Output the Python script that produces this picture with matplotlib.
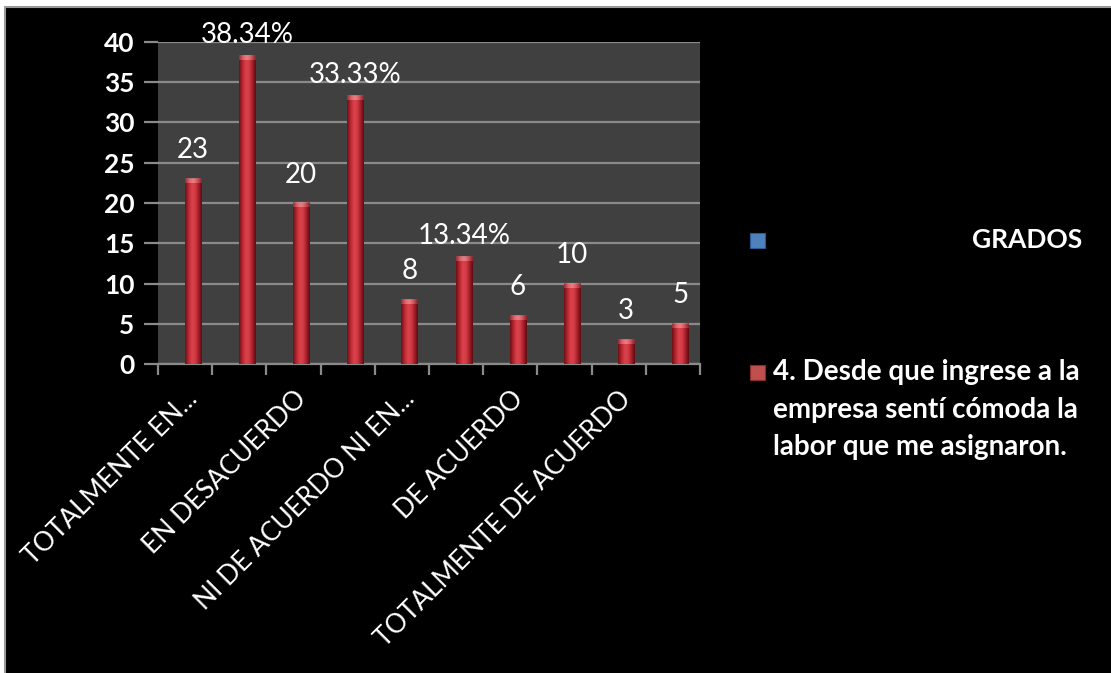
import numpy as np
import matplotlib
matplotlib.use("Agg")
import matplotlib.pyplot as plt
from matplotlib.colors import LinearSegmentedColormap
from matplotlib.patches import Rectangle
from matplotlib.lines import Line2D

# Survey answers: counts and percentage shares, alternating per answer
values = [23, 38.34, 20, 33.33, 8, 13.34, 6, 10, 3, 5]
value_labels = ["23", "38.34%", "20", "33.33%", "8", "13.34%", "6", "10", "3", "5"]
category_labels = ["TOTALMENTE EN...", "EN DESACUERDO", "NI DE ACUERDO NI EN...",
                   "DE ACUERDO", "TOTALMENTE DE ACUERDO"]
category_slots = [0, 2, 4, 6, 8]
y_ticks = [0, 5, 10, 15, 20, 25, 30, 35, 40]
series_names = ["GRADOS",
                "4. Desde que ingrese a la\nempresa sentí cómoda la\nlabor que me asignaron."]

plt.rcParams["font.family"] = ["Lato", "DejaVu Sans"]

W, H = 1111, 673
fig = plt.figure(figsize=(W / 100, H / 100), dpi=100, facecolor="white")

# black chart area, framed by a thin grey line on the top and left
x_left, y_top = 5 / W, 1 - 7 / H
fig.patches.append(Rectangle((x_left, 0), 1 - x_left, y_top, transform=fig.transFigure,
                             facecolor="black", edgecolor="none", zorder=-5))
fig.lines.append(Line2D([x_left, x_left, 1], [0, y_top, y_top], transform=fig.transFigure,
                        color="#9a9a9a", linewidth=1.5, zorder=-4))

ax = fig.add_axes([158 / W, 1 - 364 / H, (700 - 158) / W, (364 - 42) / H])
ax.set_zorder(2)
ax.set_facecolor("#404040")
for s in ax.spines.values():
    s.set_visible(False)

n = len(values)
ax.set_xlim(-0.5, n - 0.5)
ax.set_ylim(0, 40)
ax.yaxis.grid(True, color="#8a8a8a", linewidth=1.6, zorder=1)
ax.set_axisbelow(True)
ax.axhline(0, color="#8a8a8a", linewidth=1.6, zorder=1, clip_on=False)

# bars: the empty first series takes the left half of each slot
offset, width = 0.14, 0.30
x = np.arange(n) + offset
bars = ax.bar(x, values, width=width, color="#c0353c", zorder=2)

red_cmap = LinearSegmentedColormap.from_list(
    "cyl", ["#6a1016", "#b8262f", "#da424c", "#d43c46", "#a61f29", "#5a0c12"])
cap_cmap = LinearSegmentedColormap.from_list(
    "cap", ["#a0363c", "#e8787e", "#f09498", "#d8646a", "#902a30"])
grad = np.linspace(0, 1, 64).reshape(1, -1)
for b in bars:
    x0, w, h = b.get_x(), b.get_width(), b.get_height()
    im = ax.imshow(grad, cmap=red_cmap, aspect="auto", extent=(x0, x0 + w, 0, h),
                   zorder=3, interpolation="bicubic")
    im.set_clip_path(b)
    # lighter rim at the top of each bar
    cap_h = 0.55
    ax.imshow(grad, cmap=cap_cmap, aspect="auto", extent=(x0, x0 + w, h - cap_h, h),
              zorder=4, alpha=0.75, interpolation="bicubic")
ax.set_xlim(-0.5, n - 0.5)
ax.set_ylim(0, 40)

for xi, v, lab in zip(x, values, value_labels):
    lift = 15 if lab.endswith("%") else 20.5
    ax.annotate(lab, (xi, v), xytext=(0, lift), textcoords="offset points",
                ha="center", va="center", color="white", fontsize=20, zorder=5,
                annotation_clip=False)

# slot boundary ticks and category labels
ax.set_xticks(np.arange(n + 1) - 0.5)
ax.set_xticklabels([])
ax.tick_params(axis="x", which="major", length=8, width=1.6, color="#8a8a8a")
ax.set_xticks(category_slots, minor=True)
ax.set_xticklabels(category_labels, minor=True, rotation=45, ha="right",
                   rotation_mode="anchor", color="white", fontsize=19)
ax.tick_params(axis="x", which="minor", length=0, pad=16)

ax.set_yticks(y_ticks, labels=[str(t) for t in y_ticks], fontweight="bold", fontsize=19)
ax.tick_params(axis="y", length=10, width=1.6, color="#8a8a8a", pad=7, labelcolor="white")

# legend entries
fig.patches.append(Rectangle((750 / W, 1 - 248 / H), 15 / W, 15 / H, transform=fig.transFigure,
                             facecolor="#4f81bd", edgecolor="#2c5a94", linewidth=0.8))
fig.text(1082 / W, 1 - 240 / H, series_names[0], ha="right", va="center",
         color="white", fontsize=19, fontweight="bold")
fig.patches.append(Rectangle((750 / W, 1 - 380 / H), 15 / W, 15 / H, transform=fig.transFigure,
                             facecolor="#c0504d", edgecolor="#8c2a28", linewidth=0.8))
fig.text(773 / W, 1 - 359 / H, series_names[1], ha="left", va="top",
         color="white", fontsize=20, fontweight="bold", linespacing=1.55)

fig.savefig("out.png", dpi=100, facecolor="white")
